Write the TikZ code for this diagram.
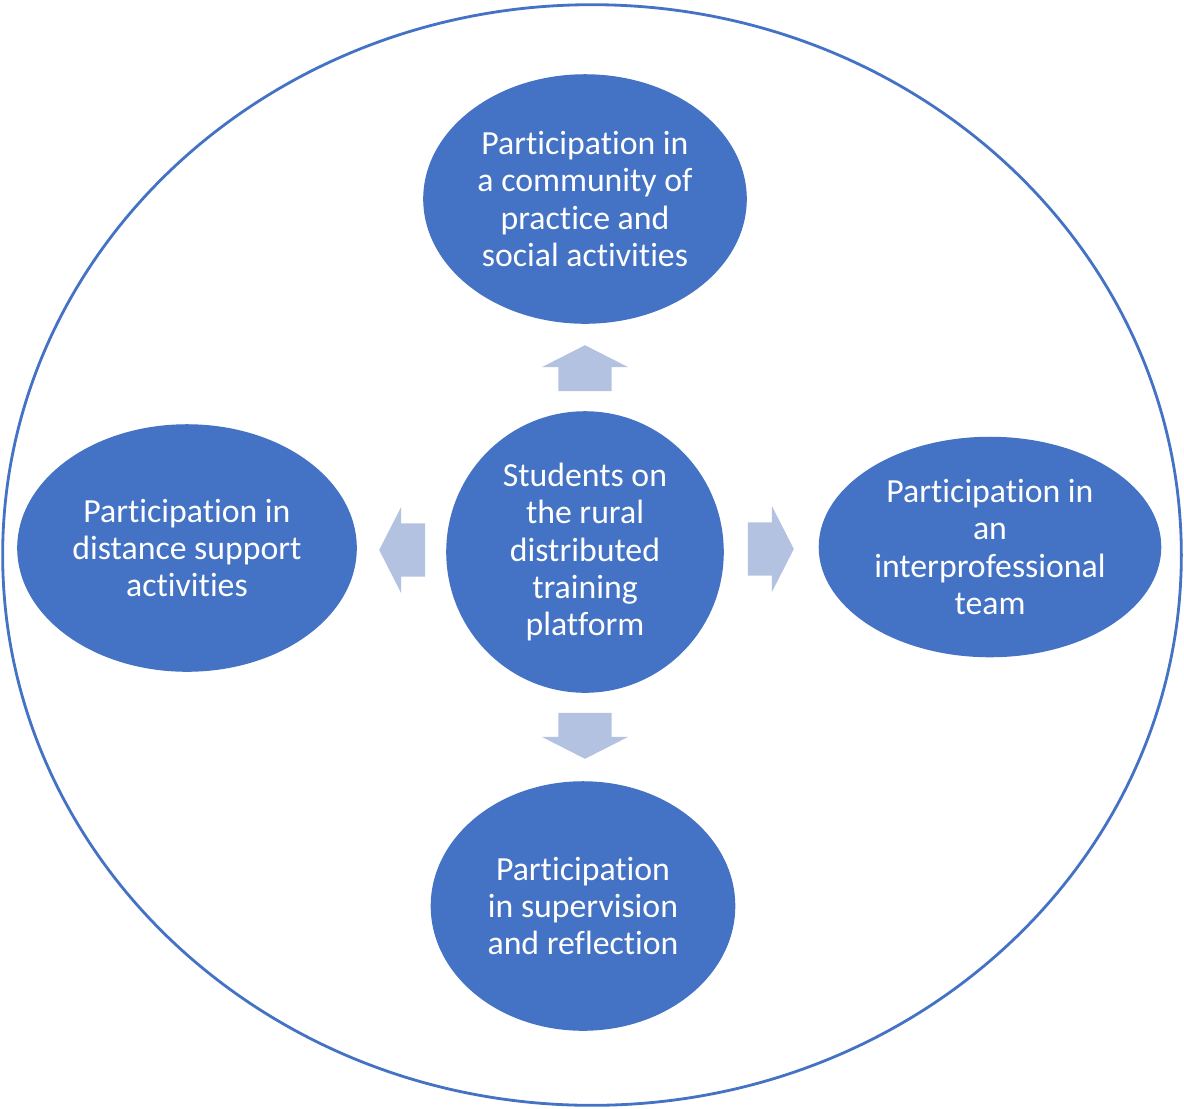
\documentclass[tikz,border=0pt]{standalone}
\usepackage{fontspec}
\setmainfont{Carlito}[Ligatures=NoCommon]
\usepackage{xcolor}
\usetikzlibrary{shapes.geometric,shapes.arrows}

\definecolor{officeblue}{HTML}{4472C4}
\definecolor{arrowblue}{HTML}{B4C2E2}

\begin{document}
\begin{tikzpicture}[
    x=0.01cm, y=-0.01cm,
    every node/.style={font=\fontsize{9.6}{10.6}\selectfont},
    topic/.style ={ellipse,fill=officeblue,draw=officeblue,inner sep=0pt,
                   text=white,align=center},
    blockarr/.style={single arrow,fill=arrowblue,inner xsep=0pt,
                   inner ysep=0.26cm,minimum width=0pt,minimum height=0.46cm,
                   single arrow head extend=0.165cm,
                   single arrow tip angle=126},
  ]
  \useasboundingbox (0,0) rectangle (1184,1108);

  % Outer frame
  \node[ellipse,draw=officeblue,line width=0.8pt,minimum width=11.78cm,
        minimum height=11.0cm,inner sep=0pt] (frame) at (592,555) {};

  % Centre: students
  \node[topic,minimum width=2.76cm,minimum height=2.80cm] (S) at (585,552)
    {Students on\\the rural\\distributed\\training\\platform};

  % Four kinds of participation
  \node[topic,minimum width=3.22cm,minimum height=2.48cm] (T) at (585,199)
    {Participation in\\a community of\\practice and\\social activities};
  \node[topic,minimum width=3.38cm,minimum height=2.46cm] (L) at (187,548)
    {Participation in\\distance support\\activities};
  \node[topic,minimum width=3.41cm,minimum height=2.19cm] (R) at (990,547)
    {Participation in\\an\\interprofessional\\team};
  \node[topic,minimum width=3.03cm,minimum height=2.48cm] (B) at (583,906)
    {Participation\\in supervision\\and reflection};

  % Arrows out of the centre
  \node[blockarr,rotate=90]  (aT) at (585,375) {};
  \node[blockarr,rotate=180] (aL) at (409,550) {};
  \node[blockarr]            (aR) at (764,549) {};
  \node[blockarr,rotate=-90] (aB) at (585,729) {};
\end{tikzpicture}
\end{document}
